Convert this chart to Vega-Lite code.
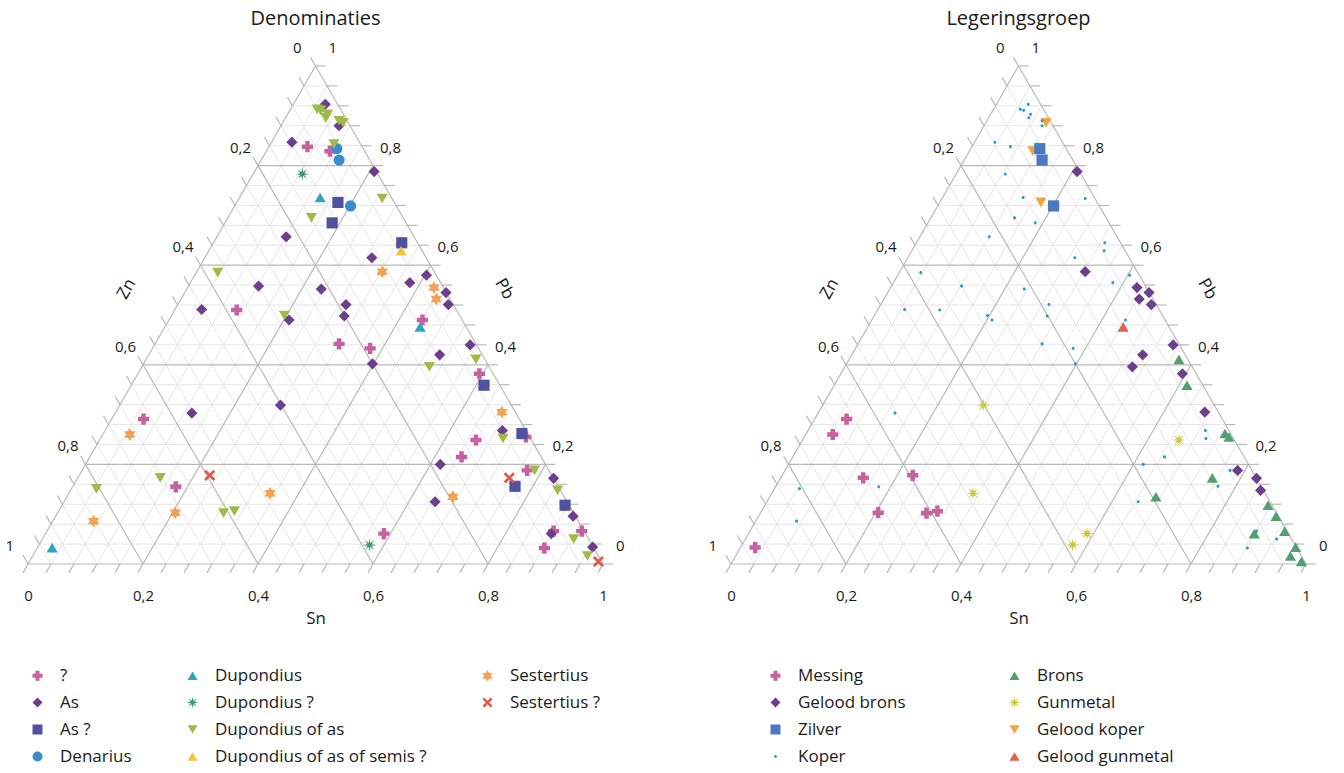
{
  "$schema": "https://vega.github.io/schema/vega-lite/v6.json",
  "padding": {"left": 5, "top": 9, "right": 5, "bottom": 5},
  "bounds": "flush",
  "spacing": 128,
  "datasets": {
    "pts": [
      {"x":0.486,"y":0.838,"den":"?","leg":"Koper"},
      {"x":0.525,"y":0.829,"den":"?","leg":"Gelood koper"},
      {"x":0.363,"y":0.510,"den":"?","leg":"Koper"},
      {"x":0.686,"y":0.490,"den":"?","leg":"Koper"},
      {"x":0.541,"y":0.442,"den":"?","leg":"Koper"},
      {"x":0.595,"y":0.433,"den":"?","leg":"Koper"},
      {"x":0.785,"y":0.382,"den":"?","leg":"Gelood brons"},
      {"x":0.201,"y":0.291,"den":"?","leg":"Messing"},
      {"x":0.257,"y":0.155,"den":"?","leg":"Koper"},
      {"x":0.866,"y":0.255,"den":"?","leg":"Brons"},
      {"x":0.779,"y":0.249,"den":"?","leg":"Gunmetal"},
      {"x":0.754,"y":0.215,"den":"?","leg":"Koper"},
      {"x":0.868,"y":0.188,"den":"?","leg":"Koper"},
      {"x":0.914,"y":0.066,"den":"?","leg":"Koper"},
      {"x":0.963,"y":0.066,"den":"?","leg":"Brons"},
      {"x":0.619,"y":0.061,"den":"?","leg":"Gunmetal"},
      {"x":0.898,"y":0.032,"den":"?","leg":"Koper"},
      {"x":0.517,"y":0.923,"den":"As","leg":"Koper"},
      {"x":0.541,"y":0.880,"den":"As","leg":"Koper"},
      {"x":0.459,"y":0.847,"den":"As","leg":"Koper"},
      {"x":0.602,"y":0.788,"den":"As","leg":"Gelood brons"},
      {"x":0.449,"y":0.657,"den":"As","leg":"Koper"},
      {"x":0.598,"y":0.615,"den":"As","leg":"Koper"},
      {"x":0.693,"y":0.580,"den":"As","leg":"Koper"},
      {"x":0.664,"y":0.565,"den":"As","leg":"Koper"},
      {"x":0.401,"y":0.558,"den":"As","leg":"Koper"},
      {"x":0.510,"y":0.552,"den":"As","leg":"Koper"},
      {"x":0.727,"y":0.545,"den":"As","leg":"Gelood brons"},
      {"x":0.731,"y":0.521,"den":"As","leg":"Gelood brons"},
      {"x":0.553,"y":0.521,"den":"As","leg":"Koper"},
      {"x":0.302,"y":0.511,"den":"As","leg":"Koper"},
      {"x":0.550,"y":0.498,"den":"As","leg":"Koper"},
      {"x":0.454,"y":0.490,"den":"As","leg":"Koper"},
      {"x":0.769,"y":0.440,"den":"As","leg":"Gelood brons"},
      {"x":0.716,"y":0.420,"den":"As","leg":"Gelood brons"},
      {"x":0.599,"y":0.402,"den":"As","leg":"Koper"},
      {"x":0.439,"y":0.319,"den":"As","leg":"Gunmetal"},
      {"x":0.285,"y":0.303,"den":"As","leg":"Koper"},
      {"x":0.825,"y":0.268,"den":"As","leg":"Koper"},
      {"x":0.717,"y":0.200,"den":"As","leg":"Koper"},
      {"x":0.914,"y":0.172,"den":"As","leg":"Gelood brons"},
      {"x":0.708,"y":0.125,"den":"As","leg":"Koper"},
      {"x":0.948,"y":0.096,"den":"As","leg":"Brons"},
      {"x":0.910,"y":0.061,"den":"As","leg":"Brons"},
      {"x":0.982,"y":0.034,"den":"As","leg":"Brons"},
      {"x":0.539,"y":0.726,"den":"As ?","leg":"Gelood koper"},
      {"x":0.529,"y":0.685,"den":"As ?","leg":"Koper"},
      {"x":0.650,"y":0.645,"den":"As ?","leg":"Koper"},
      {"x":0.793,"y":0.359,"den":"As ?","leg":"Brons"},
      {"x":0.859,"y":0.262,"den":"As ?","leg":"Brons"},
      {"x":0.847,"y":0.156,"den":"As ?","leg":"Koper"},
      {"x":0.934,"y":0.118,"den":"As ?","leg":"Brons"},
      {"x":0.537,"y":0.834,"den":"Denarius","leg":"Zilver"},
      {"x":0.541,"y":0.811,"den":"Denarius","leg":"Zilver"},
      {"x":0.561,"y":0.719,"den":"Denarius","leg":"Zilver"},
      {"x":0.508,"y":0.736,"den":"Dupondius","leg":"Koper"},
      {"x":0.682,"y":0.476,"den":"Dupondius","leg":"Gelood gunmetal"},
      {"x":0.042,"y":0.033,"den":"Dupondius","leg":"Messing"},
      {"x":0.477,"y":0.783,"den":"Dupondius ?","leg":"Koper"},
      {"x":0.594,"y":0.038,"den":"Dupondius ?","leg":"Gunmetal"},
      {"x":0.503,"y":0.913,"den":"Dupondius of as","leg":"Koper"},
      {"x":0.509,"y":0.911,"den":"Dupondius of as","leg":"Koper"},
      {"x":0.521,"y":0.903,"den":"Dupondius of as","leg":"Koper"},
      {"x":0.518,"y":0.896,"den":"Dupondius of as","leg":"Koper"},
      {"x":0.541,"y":0.890,"den":"Dupondius of as","leg":"Koper"},
      {"x":0.548,"y":0.886,"den":"Dupondius of as","leg":"Gelood koper"},
      {"x":0.532,"y":0.843,"den":"Dupondius of as","leg":"Koper"},
      {"x":0.616,"y":0.734,"den":"Dupondius of as","leg":"Koper"},
      {"x":0.493,"y":0.695,"den":"Dupondius of as","leg":"Koper"},
      {"x":0.330,"y":0.585,"den":"Dupondius of as","leg":"Koper"},
      {"x":0.446,"y":0.499,"den":"Dupondius of as","leg":"Koper"},
      {"x":0.698,"y":0.396,"den":"Dupondius of as","leg":"Gelood brons"},
      {"x":0.779,"y":0.411,"den":"Dupondius of as","leg":"Brons"},
      {"x":0.230,"y":0.173,"den":"Dupondius of as","leg":"Messing"},
      {"x":0.119,"y":0.151,"den":"Dupondius of as","leg":"Koper"},
      {"x":0.340,"y":0.102,"den":"Dupondius of as","leg":"Messing"},
      {"x":0.359,"y":0.106,"den":"Dupondius of as","leg":"Messing"},
      {"x":0.826,"y":0.252,"den":"Dupondius of as","leg":"Koper"},
      {"x":0.881,"y":0.188,"den":"Dupondius of as","leg":"Gelood brons"},
      {"x":0.921,"y":0.148,"den":"Dupondius of as","leg":"Gelood brons"},
      {"x":0.949,"y":0.050,"den":"Dupondius of as","leg":"Koper"},
      {"x":0.973,"y":0.016,"den":"Dupondius of as","leg":"Brons"},
      {"x":0.649,"y":0.629,"den":"Dupondius of as of semis ?","leg":"Koper"},
      {"x":0.616,"y":0.587,"den":"Sestertius","leg":"Gelood brons"},
      {"x":0.706,"y":0.555,"den":"Sestertius","leg":"Gelood brons"},
      {"x":0.710,"y":0.532,"den":"Sestertius","leg":"Gelood brons"},
      {"x":0.177,"y":0.260,"den":"Sestertius","leg":"Messing"},
      {"x":0.421,"y":0.142,"den":"Sestertius","leg":"Gunmetal"},
      {"x":0.256,"y":0.103,"den":"Sestertius","leg":"Messing"},
      {"x":0.114,"y":0.086,"den":"Sestertius","leg":"Koper"},
      {"x":0.824,"y":0.305,"den":"Sestertius","leg":"Gelood brons"},
      {"x":0.739,"y":0.135,"den":"Sestertius","leg":"Brons"},
      {"x":0.316,"y":0.178,"den":"Sestertius ?","leg":"Messing"},
      {"x":0.837,"y":0.173,"den":"Sestertius ?","leg":"Brons"},
      {"x":0.992,"y":0.005,"den":"Sestertius ?","leg":"Brons"}
    ],
    "gridMinor": [
      {"x":0.02,"y":0.04,"x2":0.98,"y2":0.04},{"x":0.04,"y":0.08,"x2":0.96,"y2":0.08},{"x":0.06,"y":0.12,"x2":0.94,"y2":0.12},{"x":0.08,"y":0.16,"x2":0.92,"y2":0.16},
      {"x":0.12,"y":0.24,"x2":0.88,"y2":0.24},{"x":0.14,"y":0.28,"x2":0.86,"y2":0.28},{"x":0.16,"y":0.32,"x2":0.84,"y2":0.32},{"x":0.18,"y":0.36,"x2":0.82,"y2":0.36},
      {"x":0.22,"y":0.44,"x2":0.78,"y2":0.44},{"x":0.24,"y":0.48,"x2":0.76,"y2":0.48},{"x":0.26,"y":0.52,"x2":0.74,"y2":0.52},{"x":0.28,"y":0.56,"x2":0.72,"y2":0.56},
      {"x":0.32,"y":0.64,"x2":0.68,"y2":0.64},{"x":0.34,"y":0.68,"x2":0.66,"y2":0.68},{"x":0.36,"y":0.72,"x2":0.64,"y2":0.72},{"x":0.38,"y":0.76,"x2":0.62,"y2":0.76},
      {"x":0.42,"y":0.84,"x2":0.58,"y2":0.84},{"x":0.44,"y":0.88,"x2":0.56,"y2":0.88},{"x":0.46,"y":0.92,"x2":0.54,"y2":0.92},{"x":0.48,"y":0.96,"x2":0.52,"y2":0.96},
      {"x":0.04,"y":0,"x2":0.52,"y2":0.96},{"x":0.08,"y":0,"x2":0.54,"y2":0.92},{"x":0.12,"y":0,"x2":0.56,"y2":0.88},{"x":0.16,"y":0,"x2":0.58,"y2":0.84},
      {"x":0.24,"y":0,"x2":0.62,"y2":0.76},{"x":0.28,"y":0,"x2":0.64,"y2":0.72},{"x":0.32,"y":0,"x2":0.66,"y2":0.68},{"x":0.36,"y":0,"x2":0.68,"y2":0.64},
      {"x":0.44,"y":0,"x2":0.72,"y2":0.56},{"x":0.48,"y":0,"x2":0.74,"y2":0.52},{"x":0.52,"y":0,"x2":0.76,"y2":0.48},{"x":0.56,"y":0,"x2":0.78,"y2":0.44},
      {"x":0.64,"y":0,"x2":0.82,"y2":0.36},{"x":0.68,"y":0,"x2":0.84,"y2":0.32},{"x":0.72,"y":0,"x2":0.86,"y2":0.28},{"x":0.76,"y":0,"x2":0.88,"y2":0.24},
      {"x":0.84,"y":0,"x2":0.92,"y2":0.16},{"x":0.88,"y":0,"x2":0.94,"y2":0.12},{"x":0.92,"y":0,"x2":0.96,"y2":0.08},{"x":0.96,"y":0,"x2":0.98,"y2":0.04},
      {"x":0.04,"y":0,"x2":0.02,"y2":0.04},{"x":0.08,"y":0,"x2":0.04,"y2":0.08},{"x":0.12,"y":0,"x2":0.06,"y2":0.12},{"x":0.16,"y":0,"x2":0.08,"y2":0.16},
      {"x":0.24,"y":0,"x2":0.12,"y2":0.24},{"x":0.28,"y":0,"x2":0.14,"y2":0.28},{"x":0.32,"y":0,"x2":0.16,"y2":0.32},{"x":0.36,"y":0,"x2":0.18,"y2":0.36},
      {"x":0.44,"y":0,"x2":0.22,"y2":0.44},{"x":0.48,"y":0,"x2":0.24,"y2":0.48},{"x":0.52,"y":0,"x2":0.26,"y2":0.52},{"x":0.56,"y":0,"x2":0.28,"y2":0.56},
      {"x":0.64,"y":0,"x2":0.32,"y2":0.64},{"x":0.68,"y":0,"x2":0.34,"y2":0.68},{"x":0.72,"y":0,"x2":0.36,"y2":0.72},{"x":0.76,"y":0,"x2":0.38,"y2":0.76},
      {"x":0.84,"y":0,"x2":0.42,"y2":0.84},{"x":0.88,"y":0,"x2":0.44,"y2":0.88},{"x":0.92,"y":0,"x2":0.46,"y2":0.92},{"x":0.96,"y":0,"x2":0.48,"y2":0.96}
    ],
    "gridMajor": [
      {"x":0.1,"y":0.2,"x2":0.9,"y2":0.2},{"x":0.2,"y":0.4,"x2":0.8,"y2":0.4},{"x":0.3,"y":0.6,"x2":0.7,"y2":0.6},{"x":0.4,"y":0.8,"x2":0.6,"y2":0.8},
      {"x":0.2,"y":0,"x2":0.6,"y2":0.8},{"x":0.4,"y":0,"x2":0.7,"y2":0.6},{"x":0.6,"y":0,"x2":0.8,"y2":0.4},{"x":0.8,"y":0,"x2":0.9,"y2":0.2},
      {"x":0.2,"y":0,"x2":0.1,"y2":0.2},{"x":0.4,"y":0,"x2":0.2,"y2":0.4},{"x":0.6,"y":0,"x2":0.3,"y2":0.6},{"x":0.8,"y":0,"x2":0.4,"y2":0.8},
      {"x":0,"y":0,"x2":1,"y2":0},{"x":0,"y":0,"x2":0.5,"y2":1},{"x":1,"y":0,"x2":0.5,"y2":1}
    ],
    "ticksPb": [
      {"x":1,"y":0},{"x":0.98,"y":0.04},{"x":0.96,"y":0.08},{"x":0.94,"y":0.12},{"x":0.92,"y":0.16},{"x":0.9,"y":0.2},{"x":0.88,"y":0.24},{"x":0.86,"y":0.28},{"x":0.84,"y":0.32},{"x":0.82,"y":0.36},{"x":0.8,"y":0.4},{"x":0.78,"y":0.44},{"x":0.76,"y":0.48},{"x":0.74,"y":0.52},{"x":0.72,"y":0.56},{"x":0.7,"y":0.6},{"x":0.68,"y":0.64},{"x":0.66,"y":0.68},{"x":0.64,"y":0.72},{"x":0.62,"y":0.76},{"x":0.6,"y":0.8},{"x":0.58,"y":0.84},{"x":0.56,"y":0.88},{"x":0.54,"y":0.92},{"x":0.52,"y":0.96},{"x":0.5,"y":1}
    ],
    "ticksSn": [
      {"x":0,"y":0},{"x":0.04,"y":0},{"x":0.08,"y":0},{"x":0.12,"y":0},{"x":0.16,"y":0},{"x":0.2,"y":0},{"x":0.24,"y":0},{"x":0.28,"y":0},{"x":0.32,"y":0},{"x":0.36,"y":0},{"x":0.4,"y":0},{"x":0.44,"y":0},{"x":0.48,"y":0},{"x":0.52,"y":0},{"x":0.56,"y":0},{"x":0.6,"y":0},{"x":0.64,"y":0},{"x":0.68,"y":0},{"x":0.72,"y":0},{"x":0.76,"y":0},{"x":0.8,"y":0},{"x":0.84,"y":0},{"x":0.88,"y":0},{"x":0.92,"y":0},{"x":0.96,"y":0},{"x":1,"y":0}
    ],
    "ticksZn": [
      {"x":0,"y":0},{"x":0.02,"y":0.04},{"x":0.04,"y":0.08},{"x":0.06,"y":0.12},{"x":0.08,"y":0.16},{"x":0.1,"y":0.2},{"x":0.12,"y":0.24},{"x":0.14,"y":0.28},{"x":0.16,"y":0.32},{"x":0.18,"y":0.36},{"x":0.2,"y":0.4},{"x":0.22,"y":0.44},{"x":0.24,"y":0.48},{"x":0.26,"y":0.52},{"x":0.28,"y":0.56},{"x":0.3,"y":0.6},{"x":0.32,"y":0.64},{"x":0.34,"y":0.68},{"x":0.36,"y":0.72},{"x":0.38,"y":0.76},{"x":0.4,"y":0.8},{"x":0.42,"y":0.84},{"x":0.44,"y":0.88},{"x":0.46,"y":0.92},{"x":0.48,"y":0.96},{"x":0.5,"y":1}
    ],
    "labPbMid": [{"x":0.9,"y":0.2,"t":"0,2"},{"x":0.8,"y":0.4,"t":"0,4"},{"x":0.7,"y":0.6,"t":"0,6"},{"x":0.6,"y":0.8,"t":"0,8"}],
    "labPbEnd": [{"x":1,"y":0,"t":"0"},{"x":0.5,"y":1,"t":"1"}],
    "labZnMid": [{"x":0.4,"y":0.8,"t":"0,2"},{"x":0.3,"y":0.6,"t":"0,4"},{"x":0.2,"y":0.4,"t":"0,6"},{"x":0.1,"y":0.2,"t":"0,8"}],
    "labZnEnd": [{"x":0.5,"y":1,"t":"0"},{"x":0,"y":0,"t":"1"}],
    "titleZn": [{"x":0.25,"y":0.5,"t":"Zn"}],
    "titlePb": [{"x":0.75,"y":0.5,"t":"Pb"}]
  },
  "hconcat": [
    {
      "width": 575,
      "height": 498,
      "title": {"text": "Denominaties"},
      "encoding": {
        "x": {"field": "x", "type": "quantitative", "scale": {"domain": [0, 1], "nice": false, "zero": false},
          "axis": {"values": [0, 0.2, 0.4, 0.6, 0.8, 1], "labelExpr": "replace(format(datum.value, '.1~f'), '.', ',')", "domain": false, "ticks": false, "tickSize": 0, "grid": false, "labelPadding": 24, "labelFlush": false, "labelOverlap": false, "labelFontSize": 15, "labelColor": "#1a1a1a", "title": "Sn", "titleFontSize": 17, "titleFontWeight": "normal", "titleColor": "#1a1a1a", "titlePadding": 7}},
        "y": {"field": "y", "type": "quantitative", "scale": {"domain": [0, 1], "nice": false, "zero": false}, "axis": null}
      },
      "layer": [
        {"data": {"name": "gridMinor"}, "mark": {"type": "rule", "color": "#e6e6e6", "strokeWidth": 1}, "encoding": {"x2": {"field": "x2"}, "y2": {"field": "y2"}}},
        {"data": {"name": "gridMajor"}, "mark": {"type": "rule", "color": "#b9b9b9", "strokeWidth": 1.2}, "encoding": {"x2": {"field": "x2"}, "y2": {"field": "y2"}}},
        {"data": {"name": "ticksPb"}, "mark": {"type": "point", "shape": "M0,0L2,0", "filled": false, "stroke": "#b9b9b9", "strokeWidth": 1.2, "size": 100, "opacity": 1}},
        {"data": {"name": "ticksSn"}, "mark": {"type": "point", "shape": "M0,0L-1,1.732", "filled": false, "stroke": "#b9b9b9", "strokeWidth": 1.2, "size": 100, "opacity": 1}},
        {"data": {"name": "ticksZn"}, "mark": {"type": "point", "shape": "M0,0L-1,-1.732", "filled": false, "stroke": "#b9b9b9", "strokeWidth": 1.2, "size": 100, "opacity": 1}},
        {"data": {"name": "labPbMid"}, "mark": {"type": "text", "align": "left", "baseline": "middle", "dx": 7, "dy": -18, "fontSize": 15, "color": "#1a1a1a"}, "encoding": {"text": {"field": "t"}}},
        {"data": {"name": "labPbEnd"}, "mark": {"type": "text", "align": "left", "baseline": "middle", "dx": 13, "dy": -18, "fontSize": 15, "color": "#1a1a1a"}, "encoding": {"text": {"field": "t"}}},
        {"data": {"name": "labZnMid"}, "mark": {"type": "text", "align": "right", "baseline": "middle", "dx": -7, "dy": -18, "fontSize": 15, "color": "#1a1a1a"}, "encoding": {"text": {"field": "t"}}},
        {"data": {"name": "labZnEnd"}, "mark": {"type": "text", "align": "right", "baseline": "middle", "dx": -14, "dy": -18, "fontSize": 15, "color": "#1a1a1a"}, "encoding": {"text": {"field": "t"}}},
        {"data": {"name": "titleZn"}, "mark": {"type": "text", "angle": 300, "align": "center", "baseline": "middle", "dy": -52, "fontSize": 17, "color": "#1a1a1a"}, "encoding": {"text": {"field": "t"}}},
        {"data": {"name": "titlePb"}, "mark": {"type": "text", "angle": 60, "align": "center", "baseline": "middle", "dy": -52, "fontSize": 17, "color": "#1a1a1a"}, "encoding": {"text": {"field": "t"}}},
        {
          "data": {"name": "pts"},
          "mark": {"type": "point", "filled": true, "size": 125, "opacity": 1, "strokeWidth": 0},
          "encoding": {
            "color": {"field": "den", "type": "nominal",
              "scale": {"domain": ["?", "As", "As ?", "Denarius", "Dupondius", "Dupondius ?", "Dupondius of as", "Dupondius of as of semis ?", "Sestertius", "Sestertius ?", " "],
                        "range": ["#c8619f", "#6e3d8d", "#5151a2", "#3a8bcb", "#2ba4c0", "#3b9b6b", "#9dbc47", "#f1c53c", "#f3a153", "#e05a48", "rgba(255,255,255,0)"]},
              "legend": {"title": null, "orient": "none", "legendX": 1, "legendY": 601, "columns": 3, "columnPadding": 52, "rowPadding": 9, "padding": 0, "labelFontSize": 17, "labelColor": "#1a1a1a", "labelOffset": 14, "labelLimit": 400, "symbolSize": 100}},
            "shape": {"field": "den", "type": "nominal",
              "scale": {"domain": ["?", "As", "As ?", "Denarius", "Dupondius", "Dupondius ?", "Dupondius of as", "Dupondius of as of semis ?", "Sestertius", "Sestertius ?", " "],
                        "range": ["cross", "diamond", "square", "circle", "triangle-up",
                                  "M0,-1.2L0.15,-0.36L0.85,-0.85L0.36,-0.15L1.2,0L0.36,0.15L0.85,0.85L0.15,0.36L0,1.2L-0.15,0.36L-0.85,0.85L-0.36,0.15L-1.2,0L-0.36,-0.15L-0.85,-0.85L-0.15,-0.36Z",
                                  "triangle-down", "triangle-up",
                                  "M0,-1.15L0.33,-0.575L1,-0.575L0.66,0L1,0.575L0.33,0.575L0,1.15L-0.33,0.575L-1,0.575L-0.66,0L-1,-0.575L-0.33,-0.575Z",
                                  "M-1,-0.65L-0.65,-1L0,-0.35L0.65,-1L1,-0.65L0.35,0L1,0.65L0.65,1L0,0.35L-0.65,1L-1,0.65L-0.35,0Z",
                                  "circle"]},
              "legend": {"title": null, "orient": "none", "legendX": 1, "legendY": 601, "columns": 3, "columnPadding": 52, "rowPadding": 9, "padding": 0, "labelFontSize": 17, "labelColor": "#1a1a1a", "labelOffset": 14, "labelLimit": 400, "symbolSize": 100}}
          }
        }
      ]
    },
    {
      "width": 575,
      "height": 498,
      "title": {"text": "Legeringsgroep"},
      "encoding": {
        "x": {"field": "x", "type": "quantitative", "scale": {"domain": [0, 1], "nice": false, "zero": false},
          "axis": {"values": [0, 0.2, 0.4, 0.6, 0.8, 1], "labelExpr": "replace(format(datum.value, '.1~f'), '.', ',')", "domain": false, "ticks": false, "tickSize": 0, "grid": false, "labelPadding": 24, "labelFlush": false, "labelOverlap": false, "labelFontSize": 15, "labelColor": "#1a1a1a", "title": "Sn", "titleFontSize": 17, "titleFontWeight": "normal", "titleColor": "#1a1a1a", "titlePadding": 7}},
        "y": {"field": "y", "type": "quantitative", "scale": {"domain": [0, 1], "nice": false, "zero": false}, "axis": null}
      },
      "layer": [
        {"data": {"name": "gridMinor"}, "mark": {"type": "rule", "color": "#e6e6e6", "strokeWidth": 1}, "encoding": {"x2": {"field": "x2"}, "y2": {"field": "y2"}}},
        {"data": {"name": "gridMajor"}, "mark": {"type": "rule", "color": "#b9b9b9", "strokeWidth": 1.2}, "encoding": {"x2": {"field": "x2"}, "y2": {"field": "y2"}}},
        {"data": {"name": "ticksPb"}, "mark": {"type": "point", "shape": "M0,0L2,0", "filled": false, "stroke": "#b9b9b9", "strokeWidth": 1.2, "size": 100, "opacity": 1}},
        {"data": {"name": "ticksSn"}, "mark": {"type": "point", "shape": "M0,0L-1,1.732", "filled": false, "stroke": "#b9b9b9", "strokeWidth": 1.2, "size": 100, "opacity": 1}},
        {"data": {"name": "ticksZn"}, "mark": {"type": "point", "shape": "M0,0L-1,-1.732", "filled": false, "stroke": "#b9b9b9", "strokeWidth": 1.2, "size": 100, "opacity": 1}},
        {"data": {"name": "labPbMid"}, "mark": {"type": "text", "align": "left", "baseline": "middle", "dx": 7, "dy": -18, "fontSize": 15, "color": "#1a1a1a"}, "encoding": {"text": {"field": "t"}}},
        {"data": {"name": "labPbEnd"}, "mark": {"type": "text", "align": "left", "baseline": "middle", "dx": 13, "dy": -18, "fontSize": 15, "color": "#1a1a1a"}, "encoding": {"text": {"field": "t"}}},
        {"data": {"name": "labZnMid"}, "mark": {"type": "text", "align": "right", "baseline": "middle", "dx": -7, "dy": -18, "fontSize": 15, "color": "#1a1a1a"}, "encoding": {"text": {"field": "t"}}},
        {"data": {"name": "labZnEnd"}, "mark": {"type": "text", "align": "right", "baseline": "middle", "dx": -14, "dy": -18, "fontSize": 15, "color": "#1a1a1a"}, "encoding": {"text": {"field": "t"}}},
        {"data": {"name": "titleZn"}, "mark": {"type": "text", "angle": 300, "align": "center", "baseline": "middle", "dy": -52, "fontSize": 17, "color": "#1a1a1a"}, "encoding": {"text": {"field": "t"}}},
        {"data": {"name": "titlePb"}, "mark": {"type": "text", "angle": 60, "align": "center", "baseline": "middle", "dy": -52, "fontSize": 17, "color": "#1a1a1a"}, "encoding": {"text": {"field": "t"}}},
        {
          "data": {"name": "pts"},
          "transform": [{"filter": "datum.leg != 'Koper'"}],
          "mark": {"type": "point", "filled": true, "size": 125, "opacity": 1, "strokeWidth": 0},
          "encoding": {
            "color": {"field": "leg", "type": "nominal",
              "scale": {"domain": ["Messing", "Gelood brons", "Zilver", "Koper", "Brons", "Gunmetal", "Gelood koper", "Gelood gunmetal"],
                        "range": ["#c8619f", "#6e3d8d", "#4a79c2", "#2a9fcf", "#52a06f", "#c9c83e", "#f3a33c", "#e0604c"]},
              "legend": {"title": null, "orient": "none", "legendX": 36, "legendY": 601, "columns": 2, "columnPadding": 100, "rowPadding": 9, "padding": 0, "labelFontSize": 17, "labelColor": "#1a1a1a", "labelOffset": 14, "labelLimit": 400, "symbolSize": 100}},
            "shape": {"field": "leg", "type": "nominal",
              "scale": {"domain": ["Messing", "Gelood brons", "Zilver", "Koper", "Brons", "Gunmetal", "Gelood koper", "Gelood gunmetal"],
                        "range": ["cross", "diamond", "square", "M-0.28,0A0.28,0.28,0,1,1,0.28,0A0.28,0.28,0,1,1,-0.28,0Z", "triangle-up",
                                  "M0,-1.2L0.15,-0.36L0.85,-0.85L0.36,-0.15L1.2,0L0.36,0.15L0.85,0.85L0.15,0.36L0,1.2L-0.15,0.36L-0.85,0.85L-0.36,0.15L-1.2,0L-0.36,-0.15L-0.85,-0.85L-0.15,-0.36Z",
                                  "triangle-down", "triangle-up"]},
              "legend": {"title": null, "orient": "none", "legendX": 36, "legendY": 601, "columns": 2, "columnPadding": 100, "rowPadding": 9, "padding": 0, "labelFontSize": 17, "labelColor": "#1a1a1a", "labelOffset": 14, "labelLimit": 400, "symbolSize": 100}}
          }
        },
        {
          "data": {"name": "pts"},
          "transform": [{"filter": "datum.leg == 'Koper'"}],
          "mark": {"type": "point", "filled": true, "size": 125, "opacity": 1, "strokeWidth": 0},
          "encoding": {
            "color": {"field": "leg", "type": "nominal"},
            "shape": {"field": "leg", "type": "nominal"}
          }
        }
      ]
    }
  ],
  "resolve": {
    "scale": {"color": "independent", "shape": "independent"},
    "legend": {"color": "independent", "shape": "independent"}
  },
  "config": {
    "view": {"stroke": null},
    "font": "Open Sans",
    "title": {"fontSize": 20, "fontWeight": "normal", "color": "#1a1a1a", "offset": 12, "anchor": "middle"}
  }
}
